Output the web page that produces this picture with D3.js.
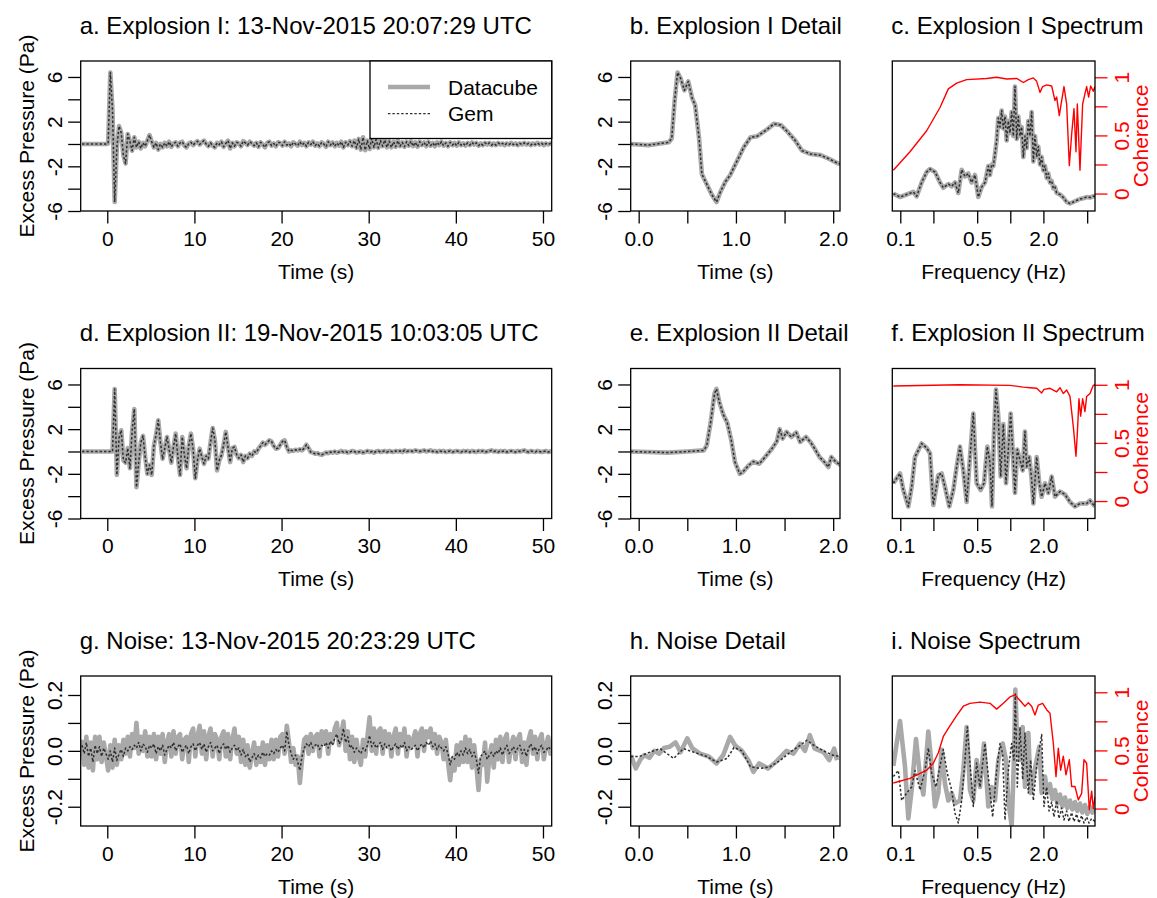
<!DOCTYPE html>
<html>
<head>
<meta charset="utf-8">
<script src="https://cdn.jsdelivr.net/npm/d3@7"></script>
<style>
  body { margin: 0; background: #fff; }
  svg { display: block; font-family: "Liberation Sans", Arial, Helvetica, sans-serif; }
</style>
</head>
<body>
<svg id="fig" width="1157" height="898"></svg>
<script>
// ---------------- data ----------------
// Long pressure traces (Pa), sampled every 0.25 s starting at -2.9 s
const waveStart = -2.9, waveStep = 0.25;

const explosionIWave = [
  0,0,0,0,0,0,0,0,0,0,0,0,0.05,
  6.4,3.0,-5.2,-0.3,1.6,1.0,-1.0,-1.75,
  0.9,0.2,-0.6,0.6,-0.3,0.2,-0.4,0.1,
  -0.2,0.3,0.8,0.2,-0.3,0.1,-0.5,0.0,
  -0.3,0.1,-0.2,0.2,-0.25,0.05,0.15,-0.2,
  0.1,0.2,-0.15,-0.3,0.05,0.15,-0.1,0.1,
  0.25,-0.05,0.15,0.3,0.0,-0.2,0.1,-0.15,
  -0.3,0.1,-0.05,0.2,-0.25,0.05,0.3,-0.4,
  0.1,-0.2,0.15,0.05,-0.2,0.25,0.1,-0.1,
  0.2,0.05,-0.15,0.1,-0.25,0.15,-0.05,-0.3,
  0.1,0.2,-0.15,0.05,-0.2,0.15,0.1,-0.15,
  0.2,-0.1,0.05,-0.2,0.15,0.0,-0.15,0.2,
  -0.1,0.1,-0.2,0.15,-0.05,0.2,-0.15,0.05,
  -0.2,0.15,0.0,-0.25,0.2,-0.1,0.15,-0.2,
  0.1,-0.15,0.2,-0.3,0.15,-0.1,0.25,-0.2,
  0.3,-0.35,0.45,-0.5,0.6,-0.55,0.3,-0.45,
  0.5,-0.3,0.4,-0.35,0.3,-0.2,0.35,-0.3,
  0.25,-0.3,0.2,-0.25,0.3,-0.2,0.15,-0.25,
  0.2,-0.15,0.25,-0.2,0.15,-0.25,0.2,-0.1,
  0.15,-0.2,0.2,-0.15,0.1,-0.2,0.15,-0.1,
  0.2,-0.15,0.1,-0.2,0.15,-0.1,0.1,-0.15,
  0.15,-0.1,0.05,-0.15,0.1,-0.1,0.15,-0.05,
  0.1,-0.15,0.05,-0.1,0.1,-0.05,0.1,-0.1,
  0.05,-0.1,0.1,-0.05,0.05,-0.1,0.05,-0.05,
  0.1,-0.05,0.05,-0.1,0.05,-0.05,0.1,-0.05,
  0.05,-0.1,0.05,-0.05,0.1,-0.05,0.05,-0.1,
  0.05,-0.05,0.05,0.0
];

const explosionIIWave = [
  0,0,0,0,0,0,0,0,0,0,0,0,0,0,0,
  5.6,-2.1,1.2,1.9,-0.8,-1.0,0.3,-1.5,
  1.8,3.8,-3.2,-1.0,0.8,1.4,-0.5,-2.0,
  -1.2,-2.1,0.5,1.5,2.8,0.8,-0.65,0.3,
  1.3,0.2,-1.0,0.4,1.6,-0.5,-2.1,1.3,
  -0.3,-1.5,0.5,1.6,0.2,-2.4,-0.8,0.25,
  -0.5,-1.1,-0.4,-0.65,0.8,2.1,1.0,-1.7,
  -0.8,-0.35,0.6,1.75,0.4,-0.95,0.3,0.4,
  -0.3,-0.6,-0.3,-0.95,-0.4,-0.6,-0.2,-0.4,
  0.0,-0.1,0.25,0.5,0.8,0.6,0.8,1.0,
  0.9,0.5,0.25,0.3,0.6,0.9,1.0,0.4,
  0.0,0.1,0.05,0.15,0.1,0.2,0.1,0.3,
  0.6,0.3,-0.05,-0.1,-0.2,-0.15,-0.25,-0.3,
  -0.2,-0.1,-0.15,-0.05,-0.1,0.0,-0.1,-0.05,
  0.05,-0.05,0.0,-0.1,-0.05,0.05,0.0,-0.1,
  -0.05,0.0,-0.1,-0.05,0.05,-0.05,0.0,-0.1,
  0.0,0.05,-0.05,0.0,0.05,-0.05,0.05,0.0,
  -0.05,0.05,0.0,0.05,-0.05,0.1,0.0,0.05,
  0.05,0.0,0.1,0.05,0.0,0.05,0.1,0.0,
  0.05,0.1,0.0,0.05,-0.05,0.05,0.0,0.05,
  -0.05,0.0,0.05,-0.05,0.0,0.05,0.0,-0.05,
  0.05,0.0,0.05,-0.05,0.05,0.0,-0.05,0.05,
  0.0,0.05,-0.05,0.0,0.05,0.1,0.0,0.05,
  -0.05,0.05,0.0,0.05,-0.05,0.0,0.05,0.0,
  -0.05,0.05,0.0,0.05,0.1,0.0,-0.05,0.05,
  0.0,-0.05,0.05,0.0,-0.05,0.0,0.05,-0.05,
  0.0,0.05
];

const noiseWaveDatacube = [
  0.04,-0.05,0.05,-0.06,0.03,-0.07,0.05,-0.03,
  0.05,-0.04,0.03,-0.02,-0.07,0.02,-0.06,0.04,
  -0.05,0.02,-0.03,0.04,-0.01,0.05,-0.02,0.06,
  0.01,0.1,-0.01,0.05,0.0,0.07,-0.02,0.05,
  -0.02,0.06,-0.03,0.05,-0.01,0.06,-0.04,0.03,
  0.06,-0.02,0.07,-0.01,0.05,0.06,-0.03,0.04,
  0.05,-0.04,0.06,0.08,-0.02,0.05,0.09,-0.01,
  0.07,-0.03,0.05,0.08,-0.02,0.06,0.04,-0.03,
  0.05,0.07,-0.02,0.06,-0.03,0.04,0.08,-0.01,
  0.05,-0.04,0.04,-0.05,0.02,-0.06,-0.01,0.03,
  -0.05,0.01,-0.04,0.03,-0.05,0.02,-0.03,0.04,
  -0.03,0.04,-0.02,0.05,0.06,-0.01,0.09,0.03,
  -0.04,0.01,-0.05,-0.02,-0.115,-0.03,0.04,0.05,
  -0.01,0.06,0.0,0.05,0.06,-0.02,0.07,0.03,
  0.07,-0.01,0.06,0.03,0.08,0.1,0.02,0.06,
  0.105,0.0,0.07,-0.03,0.05,-0.04,0.04,-0.02,
  -0.05,0.04,-0.02,0.05,0.12,0.0,0.08,-0.01,
  0.07,0.08,-0.01,0.07,0.02,0.06,-0.02,0.05,
  0.08,-0.01,0.06,0.02,0.08,-0.02,0.05,0.01,
  0.04,0.07,-0.02,0.06,0.08,0.0,0.07,0.05,
  0.08,0.01,0.06,-0.01,0.05,0.03,-0.03,0.04,
  -0.04,-0.105,-0.03,-0.07,0.02,-0.05,0.03,-0.04,
  0.05,-0.04,0.04,-0.06,0.02,-0.05,-0.14,-0.03,
  -0.05,0.03,-0.11,-0.02,0.02,-0.06,0.04,-0.03,
  0.05,-0.04,0.04,0.06,-0.04,0.02,0.05,-0.03,
  0.04,0.06,-0.04,0.03,-0.05,0.04,0.07,-0.01,
  0.05,-0.03,0.04,0.06,-0.03,0.02,0.05,-0.01,0.03
];

const noiseWaveGem = [
  0.02,-0.01,0.03,-0.02,0.01,-0.04,0.02,-0.01,
  0.015,-0.02,0.01,-0.01,-0.03,0.0,-0.04,0.01,
  -0.035,-0.01,0.005,-0.02,0.01,0.0,0.015,0.005,
  0.02,0.01,0.03,0.0,0.025,0.015,-0.005,0.02,
  0.01,0.025,-0.01,0.015,0.0,0.02,-0.015,0.005,
  0.02,0.01,0.03,0.0,0.015,0.025,-0.005,0.01,
  0.02,-0.01,0.015,0.025,0.0,0.02,0.03,0.005,
  0.025,-0.005,0.015,0.03,0.0,0.01,0.02,-0.01,
  0.015,0.025,0.005,0.02,-0.005,0.01,0.02,0.0,
  0.01,-0.015,0.005,-0.02,-0.01,-0.04,-0.025,-0.01,
  -0.03,-0.015,-0.025,-0.005,-0.02,-0.01,-0.015,0.0,
  -0.01,0.005,-0.005,0.01,0.02,0.0,0.07,0.02,
  -0.01,-0.03,-0.015,-0.04,-0.07,-0.02,0.01,0.025,
  0.015,0.03,0.01,0.02,0.025,0.005,0.02,0.015,
  0.03,0.01,0.035,0.02,0.045,0.06,0.025,0.04,
  0.08,0.03,0.05,0.01,0.02,-0.005,0.01,0.0,
  -0.01,0.01,0.0,0.02,0.055,0.015,0.03,0.01,
  0.02,0.03,0.005,0.025,0.01,0.02,0.0,0.015,
  0.025,0.005,0.02,0.01,0.03,0.0,0.015,0.005,
  0.01,0.02,0.0,0.015,0.025,0.01,0.03,0.02,
  0.035,0.015,0.025,0.005,0.02,0.01,0.0,0.015,
  -0.01,-0.05,-0.02,-0.03,-0.005,-0.02,0.0,-0.015,
  0.01,-0.01,0.005,-0.02,-0.005,-0.03,-0.08,-0.02,
  -0.01,0.0,-0.03,-0.015,-0.005,-0.02,0.0,-0.01,
  0.01,-0.015,0.005,0.02,-0.01,0.0,0.015,-0.005,
  0.01,0.02,-0.01,0.005,-0.02,0.01,0.025,0.0,
  0.015,-0.01,0.01,0.02,-0.005,0.0,0.015,0.005,0.01
];

// Detail windows (first ~2 s), time in s and pressure in Pa
const detailITime = [-0.08,0.1,0.31,0.34,0.37,0.40,0.43,0.47,0.51,0.55,0.58,0.62,0.65,0.70,0.75,0.80,0.84,0.89,0.94,0.99,1.03,1.08,1.15,1.22,1.32,1.39,1.46,1.53,1.61,1.68,1.77,1.87,1.95,2.04,2.08];
const detailIPressure = [0,-0.1,0.15,0.5,3.9,6.4,5.9,4.8,5.6,4.1,3.5,0.6,-2.7,-3.6,-4.5,-5.2,-4.3,-3.4,-2.8,-1.9,-1.2,-0.3,0.6,0.7,1.3,1.8,1.7,1.1,0.3,-0.6,-0.9,-1.0,-1.3,-1.7,-1.8];

const detailIITime = [-0.08,0.1,0.3,0.5,0.67,0.70,0.74,0.78,0.80,0.83,0.87,0.91,0.95,0.99,1.04,1.07,1.13,1.18,1.24,1.30,1.37,1.42,1.45,1.48,1.52,1.57,1.62,1.66,1.72,1.77,1.82,1.86,1.91,1.95,1.98,2.03,2.08];
const detailIIPressure = [0,-0.05,-0.1,0.0,0.1,0.55,2.6,5.2,5.6,4.4,3.3,2.6,1.1,-0.95,-2.0,-1.85,-1.25,-0.9,-1.1,-0.5,0.25,0.9,2.0,1.15,1.75,1.3,1.7,0.85,1.3,0.8,0.1,-0.5,-0.95,-1.4,-0.5,-0.95,-1.25];

const noiseDetailTime = [-0.08,-0.03,0.02,0.06,0.11,0.16,0.21,0.26,0.32,0.38,0.43,0.50,0.55,0.63,0.72,0.80,0.87,0.94,0.99,1.06,1.13,1.18,1.24,1.33,1.41,1.52,1.59,1.66,1.71,1.76,1.81,1.90,1.96,2.01,2.04];
const noiseDetailDatacube = [-0.016,-0.063,-0.03,-0.015,-0.025,0.0,-0.01,0.01,0.015,0.03,-0.005,0.045,0.01,-0.01,-0.02,-0.045,-0.015,0.05,0.02,0.0,-0.035,-0.075,-0.045,-0.063,-0.04,0.0,-0.01,0.026,0.0,0.056,0.008,-0.004,-0.033,0.008,-0.033];
const noiseDetailGemTime = [-0.08,0.01,0.12,0.22,0.36,0.46,0.56,0.70,0.80,0.91,0.98,1.06,1.15,1.25,1.35,1.46,1.56,1.66,1.73,1.80,1.90,2.00,2.07];
const noiseDetailGem = [-0.02,-0.02,-0.004,0.008,-0.027,0.008,-0.004,-0.02,-0.04,-0.027,0.012,0.0,-0.057,-0.063,-0.057,-0.033,-0.004,0.02,0.038,0.02,0.0,-0.016,-0.02];

// Spectra: frequency (Hz), relative log power (0-1 of panel height), coherence
const specIFreq = [0.0864,0.0994,0.1143,0.1314,0.1409,0.1564,0.1737,0.1862,0.2068,0.2296,0.2462,0.2733,0.2931,0.3143,0.3370,0.3613,0.3874,0.4153,0.4453,0.4775,0.5120,0.5490,0.5888,
  0.6314,0.6539,0.6770,0.7013,0.7261,0.7518,0.7785,0.8062,0.8348,0.8646,0.8953,0.9268,0.9597,0.9938,1.029,1.066,1.103,1.143,1.183,1.225,1.269,1.314,1.360,1.409,1.459,1.511,1.564,1.620,1.677,1.737,1.798,1.862,1.929,1.997,2.068,2.141,2.217,2.296,2.378,2.462,2.549,2.640,2.830,
  3.035,3.254,3.489,3.741,4.011,4.301,4.61,4.945,5.303,5.684,5.888];
const specIPower = [0.116,0.093,0.11,0.127,0.098,0.19,0.26,0.28,0.26,0.19,0.155,0.18,0.165,0.19,0.12,0.275,0.23,0.25,0.19,0.24,0.093,0.16,0.19,
  0.30,0.24,0.31,0.30,0.38,0.47,0.62,0.56,0.67,0.55,0.63,0.47,0.60,0.52,0.66,0.50,0.83,0.48,0.63,0.50,0.56,0.36,0.50,0.42,0.60,0.50,0.66,0.33,0.50,0.36,0.43,0.31,0.36,0.27,0.30,0.22,0.25,0.19,0.20,0.15,0.16,0.12,0.11,
  0.09,0.06,0.05,0.06,0.07,0.08,0.085,0.093,0.09,0.098,0.098];
const cohIFreq = [0.0864,0.1225,0.1737,0.2296,0.2733,0.3254,0.4011,0.6098,0.7518,0.9268,1.143,1.314,1.459,1.620,1.737,1.862,1.969,2.141,2.378,2.549,2.640,2.791,2.931,3.078,3.254,3.441,3.613,3.794,3.956,4.068,4.301,4.548,4.775,4.945,5.157,5.377,5.684,5.888];
const cohI = [0.2,0.36,0.54,0.74,0.90,0.95,0.98,0.99,1.0,0.985,0.99,0.955,0.98,0.995,0.965,0.87,0.92,0.935,0.925,0.80,0.83,0.67,0.80,0.92,0.77,0.24,0.51,0.73,0.36,0.77,0.2,0.77,0.86,0.92,0.83,0.925,0.88,0.92];

const specIIFreq = [0.0864,0.0994,0.1066,0.1183,0.1269,0.1360,0.1564,0.1737,0.1862,0.1997,0.2217,0.2378,0.2549,0.2791,0.3035,0.3254,0.3489,0.3741,0.4011,0.4301,0.4611,0.4945,0.5377,0.5768,0.6183,0.6539,0.6818,0.7110,0.7413,0.7785,0.8175,0.8646,0.9143,0.9597,1.0077,1.051,1.103,1.158,1.225,1.296,1.360,1.409,1.489,1.564,1.620,1.737,1.836,1.929,2.068,2.217,2.378,2.549,2.830,3.143,3.489,3.874,4.301,4.945,5.303,5.888];
const specIIPower = [0.235,0.30,0.19,0.08,0.21,0.41,0.50,0.47,0.435,0.09,0.29,0.30,0.21,0.08,0.19,0.345,0.48,0.32,0.11,0.41,0.70,0.235,0.19,0.235,0.48,0.37,0.08,0.57,0.86,0.68,0.28,0.63,0.235,0.46,0.70,0.46,0.17,0.46,0.39,0.32,0.58,0.345,0.41,0.26,0.10,0.41,0.235,0.145,0.235,0.17,0.28,0.145,0.18,0.16,0.11,0.08,0.10,0.10,0.12,0.08];
const cohIIFreq = [0.0864,0.3489,0.9938,1.314,1.511,1.737,1.929,2.025,2.296,2.640,2.830,3.035,3.254,3.489,3.741,3.956,4.068,4.212,4.362,4.548,4.775,4.945,5.303,5.684,5.888];
const cohII = [0.99,1.0,0.995,0.98,0.975,0.97,0.93,0.96,0.97,0.94,0.975,0.925,0.955,0.90,0.64,0.385,0.58,0.88,0.73,0.88,0.77,0.90,0.925,0.995,1.0];

const specNoiseFreq = [0.0864,0.0994,0.1103,0.1183,0.1269,0.1389,0.1511,0.1620,0.1798,0.1929,0.2068,0.2217,0.2378,0.2549,0.2733,0.2931,0.3143,0.3489,0.3741,0.4011,0.4301,0.4611,0.4945,0.5302,0.5768,0.6314,0.6770,0.7261,0.7785,0.8525,0.9143,0.9597,1.029,1.080,1.111,1.158,1.225,1.296,1.360,1.459,1.532,1.620,1.737,1.836,1.929,
  2.068,2.171,2.296,2.411,2.549,2.677,2.830,2.972,3.143,3.300,3.489,3.664,3.874,4.068,4.301,4.517,4.775,5.015,5.303,5.568,5.888];
const specNoiseDatacube = [0.40,0.70,0.40,0.05,0.24,0.58,0.33,0.21,0.63,0.40,0.13,0.22,0.51,0.28,0.17,0.22,0.15,0.17,0.37,0.66,0.24,0.17,0.44,0.26,0.55,0.13,0.26,0.17,0.44,0.55,0.44,0.17,0.0,0.44,0.91,0.55,0.44,0.66,0.26,0.62,0.22,0.33,0.44,0.53,0.22,
  0.33,0.22,0.28,0.18,0.24,0.15,0.21,0.13,0.19,0.12,0.17,0.11,0.16,0.10,0.15,0.09,0.14,0.08,0.13,0.09,0.12];
const specNoiseGemFreq = [0.0864,0.0960,0.1029,0.1143,0.1269,0.1360,0.1511,0.1677,0.1798,0.1929,0.2111,0.2296,0.2462,0.2677,0.2931,0.3143,0.3370,0.3613,0.3874,0.4068,0.4301,0.4611,0.4945,0.5302,0.5888,0.6314,0.6914,0.7518,0.8062,0.8525,0.8953,0.9597,1.029,1.080,1.111,1.158,1.225,1.296,1.360,1.459,1.532,1.620,1.737,1.929,2.025,
  2.141,2.248,2.378,2.496,2.640,2.771,2.931,3.078,3.254,3.417,3.613,3.794,4.011,4.212,4.453,4.677,4.945,5.194,5.490,5.888];
const specNoiseGem = [0.33,0.37,0.17,0.22,0.26,0.37,0.24,0.37,0.52,0.35,0.26,0.40,0.51,0.35,0.24,0.085,0.02,0.17,0.44,0.66,0.42,0.13,0.42,0.26,0.55,0.33,0.06,0.37,0.55,0.48,0.04,0.37,0.55,0.44,0.88,0.26,0.66,0.31,0.62,0.22,0.44,0.17,0.40,0.61,0.13,
  0.26,0.10,0.16,0.06,0.17,0.05,0.12,0.04,0.10,0.03,0.09,0.03,0.08,0.02,0.07,0.02,0.06,0.02,0.05,0.03];
const cohNoiseFreq = [0.0864,0.1225,0.1737,0.1997,0.2217,0.2462,0.2733,0.3254,0.3741,0.4301,0.5302,0.6539,0.7518,0.8646,0.9938,1.103,1.225,1.360,1.459,1.564,1.677,1.798,1.969,2.141,2.296,2.462,2.603,2.733,2.870,3.035,3.209,3.441,3.613,3.874,4.153,4.453,4.677,4.945,5.230,5.490,5.684,5.888];
const cohNoise = [0.22,0.26,0.33,0.39,0.48,0.62,0.69,0.80,0.88,0.905,0.915,0.905,0.855,0.905,0.96,0.977,0.93,0.88,0.91,0.88,0.805,0.89,0.905,0.85,0.82,0.56,0.275,0.52,0.33,0.45,0.29,0.42,0.19,0.19,0.075,0.13,0.42,0.39,-0.01,0.15,0.0,0.1];

// Axis ticks and their labels
const waveTicks = [0, 10, 20, 30, 40, 50];
const waveTickLabels = ["0", "10", "20", "30", "40", "50"];
const detailTicks = [0, 0.5, 1, 1.5, 2];
const detailTickLabels = ["0.0", "", "1.0", "", "2.0"];
const freqTicks = [0.1, 0.2, 0.5, 1, 2, 5];
const freqTickLabels = ["0.1", "", "0.5", "", "2.0", ""];
const pressureTicks = [-6, -4, -2, 0, 2, 4, 6];
const pressureTickLabels = ["-6", "", "-2", "", "2", "", "6"];
const noiseTicks = [-0.2, -0.1, 0, 0.1, 0.2];
const noiseTickLabels = ["-0.2", "", "0.0", "", "0.2"];
const cohTicks = [0, 0.25, 0.5, 0.75, 1];
const cohTickLabels = ["0", "", "0.5", "", "1"];

const panelTitles = [
  ["a. Explosion I: 13-Nov-2015 20:07:29 UTC", "b. Explosion I Detail", "c. Explosion I Spectrum"],
  ["d. Explosion II: 19-Nov-2015 10:03:05 UTC", "e. Explosion II Detail", "f. Explosion II Spectrum"],
  ["g. Noise: 13-Nov-2015 20:23:29 UTC", "h. Noise Detail", "i. Noise Spectrum"]
];
const legendNames = ["Datacube", "Gem"];

// ---------------- layout & style ----------------
const rowTops = [61, 368.5, 676];
const boxH = 150;
const cols = [[80.7, 551.7], [630.7, 840], [892.3, 1095]];
const FS = 21, FS_TITLE = 24;
const GRAY = "#a9a9a9", DARK = "#2f2f2f", RED = "#ff0000";
const styles = {
  datacube: { stroke: GRAY, width: 4.6, dash: null },
  gem: { stroke: DARK, width: 1.5, dash: "2.4,2" },
  coherence: { stroke: RED, width: 1.4, dash: null }
};

const svg = d3.select("#fig");
let clipCount = 0;

const wavePoints = vals => vals.map((v, i) => [waveStart + i * waveStep, v]);

function styleAxis(ax, color) {
  ax.attr("font-family", null).attr("font-size", null);
  ax.select(".domain").remove();
  ax.selectAll(".tick line").attr("stroke", color).attr("stroke-width", 1.3);
  ax.selectAll(".tick text").attr("fill", color).style("font-size", FS + "px");
}

function panel(o) {
  const [x0, x1] = cols[o.col];
  const y0 = rowTops[o.row], y1 = y0 + boxH;
  const g = svg.append("g");
  const x = o.xScale.range([x0, x1]);
  const y = d3.scaleLinear().domain(o.yDomain).range([y1, y0]);

  const id = "clip" + (clipCount++);
  g.append("clipPath").attr("id", id).append("rect")
    .attr("x", x0).attr("y", y0).attr("width", x1 - x0).attr("height", boxH);
  const plot = g.append("g").attr("clip-path", `url(#${id})`);

  function drawLine(points, st, yScale) {
    plot.append("path").datum(points)
      .attr("fill", "none")
      .attr("stroke", st.stroke)
      .attr("stroke-width", st.width)
      .attr("stroke-linejoin", "round")
      .attr("stroke-dasharray", st.dash)
      .attr("d", d3.line().x(d => x(d[0])).y(d => yScale(d[1])));
  }
  o.series.forEach(s => drawLine(s.points, styles[s.style], y));

  // coherence on a secondary right-hand axis
  if (o.coherence) {
    const yc = d3.scaleLinear().domain([-0.15, 1.14]).range([y1, y0]);
    drawLine(o.coherence, styles.coherence, yc);
    const axR = g.append("g").attr("transform", `translate(${x1},0)`)
      .call(d3.axisRight(yc).tickValues(cohTicks).tickSize(12.5)
        .tickFormat((d, i) => cohTickLabels[i]));
    styleAxis(axR, RED);
    axR.selectAll(".tick text").attr("x", 0).attr("y", 33.5).attr("dy", null)
      .attr("text-anchor", "middle").attr("transform", "rotate(-90)");
    g.append("text")
      .attr("transform", `translate(${x1 + 53},${(y0 + y1) / 2}) rotate(-90)`)
      .attr("text-anchor", "middle").attr("fill", RED)
      .style("font-size", FS + "px").text("Coherence");
  }

  // bottom axis
  const axB = g.append("g").attr("transform", `translate(0,${y1})`)
    .call(d3.axisBottom(x).tickValues(o.xTicks).tickSize(12.5)
      .tickFormat((d, i) => o.xLabels[i]));
  styleAxis(axB, "#000");
  axB.selectAll(".tick text").attr("y", 34.5).attr("dy", null);
  g.append("text").attr("x", (x0 + x1) / 2).attr("y", y1 + 67.5)
    .attr("text-anchor", "middle").style("font-size", FS + "px").text(o.xTitle);

  // left axis
  if (o.yTicks) {
    const axL = g.append("g").attr("transform", `translate(${x0},0)`)
      .call(d3.axisLeft(y).tickValues(o.yTicks).tickSize(12.5)
        .tickFormat((d, i) => o.yLabels[i]));
    styleAxis(axL, "#000");
    axL.selectAll(".tick text").attr("x", 0).attr("y", -19).attr("dy", null)
      .attr("text-anchor", "middle").attr("transform", "rotate(-90)");
  }
  if (o.yTitle) {
    g.append("text")
      .attr("transform", `translate(${x0 - 47},${(y0 + y1) / 2}) rotate(-90)`)
      .attr("text-anchor", "middle").style("font-size", FS + "px").text(o.yTitle);
  }

  // frame
  g.append("rect").attr("x", x0).attr("y", y0).attr("width", x1 - x0).attr("height", boxH)
    .attr("fill", "none").attr("stroke", "#000").attr("stroke-width", 1.3);

  // title
  g.append("text").attr("x", x0 - 1).attr("y", y0 - 27.5)
    .style("font-size", FS_TITLE + "px").text(panelTitles[o.row][o.col]);

  if (o.legend) {
    const lx0 = 370, ly0 = y0, lx1 = x1, ly1 = y0 + 77.5;
    g.append("rect").attr("x", lx0).attr("y", ly0).attr("width", lx1 - lx0).attr("height", ly1 - ly0)
      .attr("fill", "#fff").attr("stroke", "#000").attr("stroke-width", 1.3);
    ["datacube", "gem"].forEach((k, i) => {
      const ly = y0 + 26 + i * 26.6;
      const st = styles[k];
      g.append("line").attr("x1", 388).attr("x2", 430).attr("y1", ly).attr("y2", ly)
        .attr("stroke", st.stroke).attr("stroke-width", k === "gem" ? 1.2 : st.width)
        .attr("stroke-dasharray", st.dash);
      g.append("text").attr("x", 448).attr("y", ly + 7.5)
        .style("font-size", FS + "px").text(legendNames[i]);
    });
  }
}

const timeScale = () => d3.scaleLinear().domain([-3.05, 51.0]);
const detailScale = () => d3.scaleLinear().domain([-0.082, 2.07]);
const freqScale = () => d3.scaleLog().domain([0.0846, 5.89]);
const pressureDomain = [-6.0, 7.43];
const noiseDomain = [-0.269, 0.268];

// Row 1: Explosion I
panel({ row: 0, col: 0, xScale: timeScale(), yDomain: pressureDomain,
  xTicks: waveTicks, xLabels: waveTickLabels, yTicks: pressureTicks, yLabels: pressureTickLabels,
  xTitle: "Time (s)", yTitle: "Excess Pressure (Pa)", legend: true,
  series: [{ points: wavePoints(explosionIWave), style: "datacube" },
           { points: wavePoints(explosionIWave), style: "gem" }] });
panel({ row: 0, col: 1, xScale: detailScale(), yDomain: pressureDomain,
  xTicks: detailTicks, xLabels: detailTickLabels, yTicks: pressureTicks, yLabels: pressureTickLabels,
  xTitle: "Time (s)",
  series: [{ points: d3.zip(detailITime, detailIPressure), style: "datacube" },
           { points: d3.zip(detailITime, detailIPressure), style: "gem" }] });
panel({ row: 0, col: 2, xScale: freqScale(), yDomain: [0, 1],
  xTicks: freqTicks, xLabels: freqTickLabels, xTitle: "Frequency (Hz)",
  series: [{ points: d3.zip(specIFreq, specIPower), style: "datacube" },
           { points: d3.zip(specIFreq, specIPower), style: "gem" }],
  coherence: d3.zip(cohIFreq, cohI) });

// Row 2: Explosion II
panel({ row: 1, col: 0, xScale: timeScale(), yDomain: pressureDomain,
  xTicks: waveTicks, xLabels: waveTickLabels, yTicks: pressureTicks, yLabels: pressureTickLabels,
  xTitle: "Time (s)", yTitle: "Excess Pressure (Pa)",
  series: [{ points: wavePoints(explosionIIWave), style: "datacube" },
           { points: wavePoints(explosionIIWave), style: "gem" }] });
panel({ row: 1, col: 1, xScale: detailScale(), yDomain: pressureDomain,
  xTicks: detailTicks, xLabels: detailTickLabels, yTicks: pressureTicks, yLabels: pressureTickLabels,
  xTitle: "Time (s)",
  series: [{ points: d3.zip(detailIITime, detailIIPressure), style: "datacube" },
           { points: d3.zip(detailIITime, detailIIPressure), style: "gem" }] });
panel({ row: 1, col: 2, xScale: freqScale(), yDomain: [0, 1],
  xTicks: freqTicks, xLabels: freqTickLabels, xTitle: "Frequency (Hz)",
  series: [{ points: d3.zip(specIIFreq, specIIPower), style: "datacube" },
           { points: d3.zip(specIIFreq, specIIPower), style: "gem" }],
  coherence: d3.zip(cohIIFreq, cohII) });

// Row 3: background noise
panel({ row: 2, col: 0, xScale: timeScale(), yDomain: noiseDomain,
  xTicks: waveTicks, xLabels: waveTickLabels, yTicks: noiseTicks, yLabels: noiseTickLabels,
  xTitle: "Time (s)", yTitle: "Excess Pressure (Pa)",
  series: [{ points: wavePoints(noiseWaveDatacube), style: "datacube" },
           { points: wavePoints(noiseWaveGem), style: "gem" }] });
panel({ row: 2, col: 1, xScale: detailScale(), yDomain: noiseDomain,
  xTicks: detailTicks, xLabels: detailTickLabels, yTicks: noiseTicks, yLabels: noiseTickLabels,
  xTitle: "Time (s)",
  series: [{ points: d3.zip(noiseDetailTime, noiseDetailDatacube), style: "datacube" },
           { points: d3.zip(noiseDetailGemTime, noiseDetailGem), style: "gem" }] });
panel({ row: 2, col: 2, xScale: freqScale(), yDomain: [0, 1],
  xTicks: freqTicks, xLabels: freqTickLabels, xTitle: "Frequency (Hz)",
  series: [{ points: d3.zip(specNoiseFreq, specNoiseDatacube), style: "datacube" },
           { points: d3.zip(specNoiseGemFreq, specNoiseGem), style: "gem" }],
  coherence: d3.zip(cohNoiseFreq, cohNoise) });
</script>
</body>
</html>
